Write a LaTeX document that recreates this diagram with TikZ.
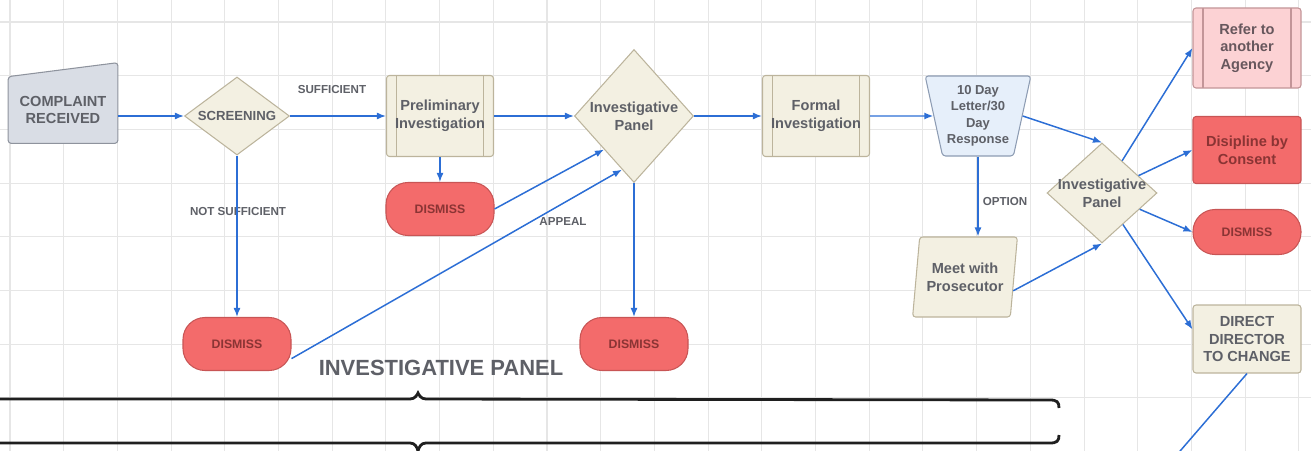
\documentclass[tikz,border=0pt]{standalone}
\usepackage{fontspec}
\setmainfont{Liberation Sans}
\usepackage{tikz}
\usetikzlibrary{shapes.geometric, arrows.meta, calc, backgrounds}

\definecolor{cream}{HTML}{F3F0E2}
\definecolor{creamline}{HTML}{BCB49C}
\definecolor{slate}{HTML}{D9DDE5}
\definecolor{slateline}{HTML}{8E939D}
\definecolor{coral}{HTML}{F36B6B}
\definecolor{coralline}{HTML}{C85555}
\definecolor{coraltext}{HTML}{8A3434}
\definecolor{blush}{HTML}{FCD2D4}
\definecolor{blushline}{HTML}{C39598}
\definecolor{sky}{HTML}{E6EFFA}
\definecolor{skyline}{HTML}{8D9CB3}
\definecolor{flowblue}{HTML}{2C6ED5}
\definecolor{inkgray}{HTML}{5E6067}
\definecolor{gridgray}{HTML}{E6E6E6}

\begin{document}
\begin{tikzpicture}[x=0.2mm, y=-0.2mm,
  txt/.style={font=\bfseries\fontsize{8.3}{10}\selectfont, text=inkgray, align=center},
  proc/.style={txt, rectangle, draw=creamline, fill=cream, rounded corners=0.6mm,
    line width=0.6pt, minimum width=21.4mm, minimum height=16.2mm, inner sep=0pt},
  predef/.style={path picture={
    \draw[#1, line width=0.6pt]
      ([xshift=2mm]path picture bounding box.north west) -- ([xshift=2mm]path picture bounding box.south west)
      ([xshift=-2mm]path picture bounding box.north east) -- ([xshift=-2mm]path picture bounding box.south east);}},
  decis/.style={txt, diamond, draw=creamline, fill=cream, line width=0.6pt, inner sep=-6pt},
  dism/.style={txt, rectangle, text=coraltext, draw=coralline, fill=coral, rounded corners=4.4mm,
    line width=0.6pt, minimum width=21.6mm, minimum height=10.6mm, inner sep=0pt,
    font=\bfseries\fontsize{7}{8}\selectfont},
  lbl/.style={font=\bfseries\fontsize{6.6}{8}\selectfont, text=inkgray},
  flow/.style={draw=flowblue, line width=0.85pt, -{Latex[length=1.8mm, width=1.4mm]}},
  flowline/.style={draw=flowblue, line width=0.85pt},
  gridline/.style={draw=gridgray, line width=0.6pt},
  brace/.style={draw=black!88, line width=1.6pt}
]
\useasboundingbox (0,0) rectangle (1311,451);

\node[txt, minimum width=21.8mm, minimum height=13.2mm, inner sep=0pt] (complaint) at (63,110)
  {COMPLAINT\\RECEIVED};
\node[decis, minimum width=21mm, minimum height=15.6mm, font=\bfseries\fontsize{7.5}{9}\selectfont] (screen) at (237,116)
  {SCREENING};
\node[proc, predef=creamline] (prelim) at (440,116)
  {Preliminary\\Investigation};
\node[dism] (dismissA) at (440,209) {DISMISS};
\node[decis, minimum width=23.8mm, minimum height=26.6mm] (panelA) at (634,116)
  {Investigative\\Panel};
\node[dism] (dismissB) at (237,344) {DISMISS};
\node[dism] (dismissC) at (634,344) {DISMISS};
\node[proc, predef=creamline] (formal) at (816,116)
  {Formal\\Investigation};
\node[txt, trapezium, trapezium stretches=true, trapezium left angle=76, trapezium right angle=76,
  shape border rotate=180, draw=skyline, fill=sky, line width=0.6pt, rounded corners=0.6mm,
  minimum width=21.2mm, minimum height=16mm, inner sep=0pt,
  font=\bfseries\fontsize{7.4}{9.4}\selectfont] (letter) at (978,116)
  {10 Day\\Letter/30\\Day\\Response};
\node[txt, trapezium, trapezium stretches=true, trapezium left angle=78, trapezium right angle=102,
  draw=creamline, fill=cream, line width=0.6pt, rounded corners=0.6mm,
  minimum width=21mm, minimum height=16mm, inner sep=0pt] (meet) at (965,277)
  {Meet with\\Prosecutor};
\node[decis, minimum width=22mm, minimum height=20mm] (panelB) at (1102,193)
  {Investigative\\Panel};
\node[proc, fill=blush, draw=blushline, predef=blushline, text=inkgray!80!coraltext,
  minimum width=21.6mm, minimum height=16mm] (refer) at (1247,48)
  {Refer to\\another\\Agency};
\node[proc, fill=coral, draw=coralline, text=coraltext,
  minimum width=21.6mm, minimum height=13.4mm] (consent) at (1247,150)
  {Disipline by\\Consent};
\node[dism, minimum height=9mm] (dismissD) at (1247,232) {DISMISS};
\node[proc, minimum width=21.6mm, minimum height=13.6mm] (direct) at (1247,339)
  {DIRECT\\DIRECTOR\\TO CHANGE};

\node[lbl] (suff) at (332,90) {SUFFICIENT};
\node[lbl] (notsuff) at (238,212) {NOT SUFFICIENT};
\node[lbl] (appeal) at (563,222) {APPEAL};
\node[lbl] (option) at (1005,202) {OPTION};
\node[font=\bfseries\fontsize{12.5}{14}\selectfont, text=inkgray] (title) at (441,368)
  {INVESTIGATIVE PANEL};

\begin{scope}[on background layer]
\draw[gridline, xstep=10.74mm, ystep=10.74mm, shift={(10,22)}] (-60,480) grid (1320,-60);
\draw[draw=slateline, fill=slate, line width=0.6pt, rounded corners=0.6mm]
  (complaint.south west) -- (complaint.south east) -- ($(complaint.north east)+(0,-14)$)
  -- (complaint.north west) -- cycle;
\end{scope}

\draw[flow] (complaint.east |- screen.west) -- (screen.west);
\draw[flow] (screen) -- (prelim);
\draw[flow] (prelim) -- (panelA);
\draw[flow] (panelA) -- (formal);
\draw[flow] (formal) -- (letter);
\draw[flow] (prelim) -- (dismissA);
\draw[flow] (screen) -- (dismissB);
\draw[flow] (panelA) -- (dismissC);
\draw[flow] (dismissA.east) -- (panelA.south west);
\draw[flow] (dismissB.-15) -- ($(panelA.south)!0.2!(panelA.west)$);
\draw[flow] (letter.0) -- (panelB.north);
\draw[flow] (letter.270) -- (letter.270 |- meet.north);
\draw[flow] (meet.-16) -- (panelB.south);
\draw[flow] (panelB) -- (refer.west);
\draw[flow] (panelB) -- (consent.west);
\draw[flow] (panelB) -- (dismissD.west);
\draw[flow] (panelB) -- (direct.170);
\coordinate (offpage) at (1168,465);
\draw[flowline] (direct.south) -- (offpage);

\draw[brace] (-10,399) -- (410,399) .. controls (415,399) and (417,395) .. (418,393)
  .. controls (419,395) and (421,399) .. (426,399) -- (1050,400)
  .. controls (1057,400) and (1059,402) .. (1059,408);
\draw[brace] (-10,443) -- (410,443) .. controls (415,443) and (417,447) .. (418,451)
  .. controls (419,447) and (421,443) .. (426,443) -- (1050,443)
  .. controls (1057,443) and (1059,441) .. (1059,435);
\end{tikzpicture}
\end{document}
